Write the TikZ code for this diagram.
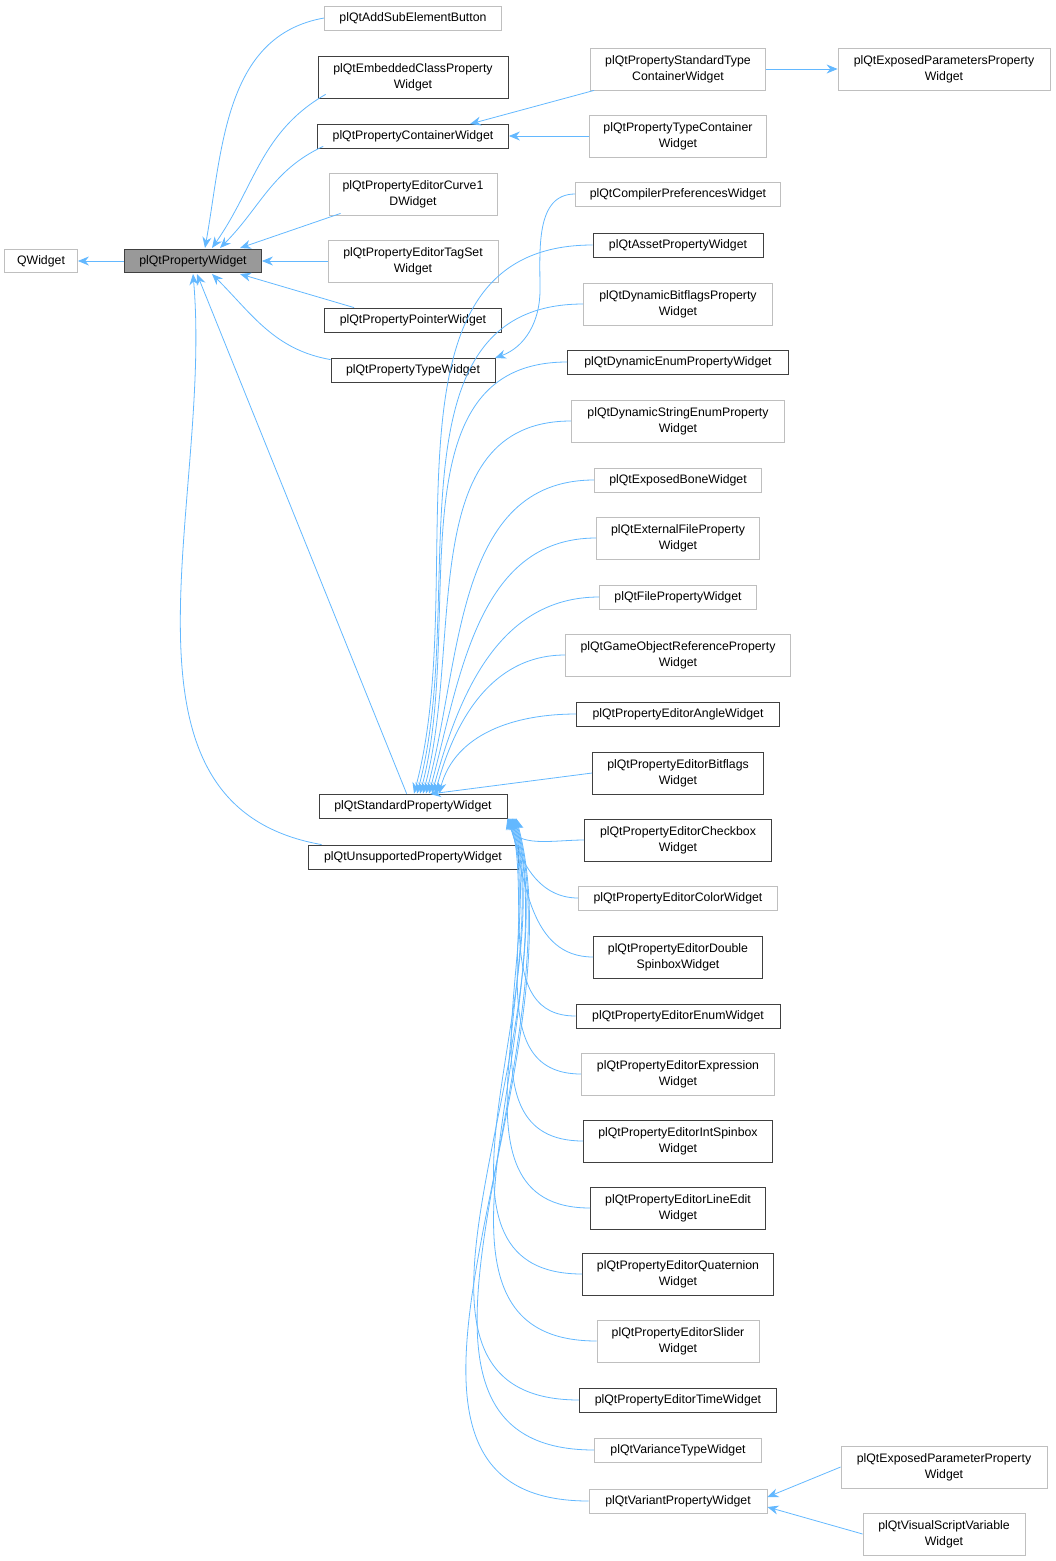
\documentclass[tikz,border=0pt]{standalone}
\usepackage{fontspec}
\setmainfont{Liberation Sans}
\usetikzlibrary{arrows.meta,calc}
\definecolor{eblue}{HTML}{63B8FF}
\definecolor{dk}{HTML}{404040}
\definecolor{lt}{HTML}{BFBFBF}
\tikzset{
 bx/.style={draw=#1, line width=0.8pt, fill=white, inner sep=0pt, align=center, font=\fontsize{12.3}{16}\selectfont, text=black},
 edge/.style={draw=eblue, line width=0.8pt, -{Stealth[length=11pt,width=9pt]}}
}
\newcommand\nd[7]{\node[bx=#7, minimum width=#4pt, minimum height=#5pt] (#1) at (#2,#3) {#6};}
\begin{document}
\begin{tikzpicture}[x=1pt,y=-1pt]
\useasboundingbox (0,0) rectangle (1056,1561);
\nd{qw}{41}{261}{73}{23}{QWidget}{lt}
\node[bx=dk, fill=gray!80, minimum width=137pt, minimum height=23pt] (pw) at (193,261) {plQtPropertyWidget};
\nd{add}{413}{18}{177}{24}{plQtAddSubElementButton}{lt}
\nd{emb}{413}{77}{190}{42}{plQtEmbeddedClassProperty\\Widget}{dk}
\nd{con}{413}{136}{191}{24}{plQtPropertyContainerWidget}{dk}
\nd{cur}{413}{194}{168}{42}{plQtPropertyEditorCurve1\\DWidget}{lt}
\nd{tag}{413}{261}{170}{42}{plQtPropertyEditorTagSet\\Widget}{lt}
\nd{ptr}{413}{320}{177}{24}{plQtPropertyPointerWidget}{dk}
\nd{typ}{413}{370}{164}{24}{plQtPropertyTypeWidget}{dk}
\nd{std}{413}{806}{188}{24}{plQtStandardPropertyWidget}{dk}
\nd{uns}{413}{857}{210}{24}{plQtUnsupportedPropertyWidget}{dk}
\nd{stc}{678}{69}{175}{42}{plQtPropertyStandardType\\ContainerWidget}{lt}
\nd{tcw}{678}{136}{177}{42}{plQtPropertyTypeContainer\\Widget}{lt}
\nd{cmp}{678}{194}{205}{24}{plQtCompilerPreferencesWidget}{lt}
\nd{ast}{678}{245}{170}{24}{plQtAssetPropertyWidget}{dk}
\nd{dbf}{678}{304}{189}{42}{plQtDynamicBitflagsProperty\\Widget}{lt}
\nd{den}{678}{362}{221}{24}{plQtDynamicEnumPropertyWidget}{dk}
\nd{dse}{678}{421}{213}{42}{plQtDynamicStringEnumProperty\\Widget}{lt}
\nd{bon}{678}{480}{167}{24}{plQtExposedBoneWidget}{lt}
\nd{ext}{678}{538}{163}{42}{plQtExternalFileProperty\\Widget}{lt}
\nd{fil}{678}{597}{157}{24}{plQtFilePropertyWidget}{lt}
\nd{gor}{678}{655}{225}{42}{plQtGameObjectReferenceProperty\\Widget}{lt}
\nd{ang}{678}{714}{203}{24}{plQtPropertyEditorAngleWidget}{dk}
\nd{bit}{678}{773}{171}{42}{plQtPropertyEditorBitflags\\Widget}{dk}
\nd{chk}{678}{840}{187}{42}{plQtPropertyEditorCheckbox\\Widget}{dk}
\nd{col}{678}{898}{199}{24}{plQtPropertyEditorColorWidget}{lt}
\nd{dsp}{678}{957}{169}{42}{plQtPropertyEditorDouble\\SpinboxWidget}{dk}
\nd{enu}{678}{1016}{204}{24}{plQtPropertyEditorEnumWidget}{dk}
\nd{exp}{678}{1074}{193}{42}{plQtPropertyEditorExpression\\Widget}{lt}
\nd{isp}{678}{1141}{189}{42}{plQtPropertyEditorIntSpinbox\\Widget}{dk}
\nd{lin}{678}{1208}{175}{42}{plQtPropertyEditorLineEdit\\Widget}{dk}
\nd{qua}{678}{1274}{191}{42}{plQtPropertyEditorQuaternion\\Widget}{dk}
\nd{sld}{678}{1341}{162}{42}{plQtPropertyEditorSlider\\Widget}{lt}
\nd{tim}{678}{1400}{197}{24}{plQtPropertyEditorTimeWidget}{dk}
\nd{var}{678}{1450}{167}{24}{plQtVarianceTypeWidget}{lt}
\nd{vnt}{678}{1501}{178}{24}{plQtVariantPropertyWidget}{lt}
\nd{eps}{944}{69}{212}{42}{plQtExposedParametersProperty\\Widget}{lt}
\nd{ep}{944}{1467}{206}{42}{plQtExposedParameterProperty\\Widget}{lt}
\nd{vsv}{944}{1534}{162}{42}{plQtVisualScriptVariable\\Widget}{lt}
% to QWidget
\draw[edge] (pw.west) -- (qw.east);
% to plQtPropertyWidget
\draw[edge] (add.west) to[out=190,in=80] (205,248);
\draw[edge] (emb.south west)++(8,-4) to[out=210,in=55] (212,248);
\draw[edge] (con.south west)++(6,-2) to[out=205,in=45] (220,248);
\draw[edge] (cur.south west)++(12,-2) -- (240,248);
\draw[edge] (tag.west) -- (pw.east);
\draw[edge] (ptr.north west)++(30,0) -- (240,274);
\draw[edge] (typ.north west)++(0,2) to[out=170,in=-45] (212,274);
\draw[edge] (std.north west)++(88,0) -- (197,274);
\draw[edge] (uns.north west)++(14,0) to[out=170,in=-85] (193,274);
% container group
\draw[edge] (stc.south west)++(4,0) -- (470,124);
\draw[edge] (tcw.west) -- (con.east);
\draw[edge] (stc.east) -- (eps.west);
\draw[edge] (cmp.west) to[out=180,in=90] (540,290) to[out=-90,in=20] (495,358);
% std children above
\foreach \n/\d in {ast/1,dbf/4,den/7,dse/10,bon/13,ext/16,fil/19,gor/22,ang/26}{
  \draw[edge] (\n.west) to[out=180,in=75] ($(std.north)+(\d,0)$);
}
\draw[edge] (bit.west) -- (430,794);
% std children below
\foreach \n/\a in {chk/0,col/1,dsp/2,enu/3,exp/4,isp/5,lin/6,qua/7,sld/8,tim/9,var/10,vnt/11}{
  \draw[edge] (\n.west) to[out=180,in=-75] ($(std.south east)+(\a*0.8,0)$);
}
\draw[edge] (ep.west) -- ($(vnt.east)+(0,-4)$);
\draw[edge] (vsv.west) -- ($(vnt.east)+(0,6)$);
\end{tikzpicture}
\end{document}
